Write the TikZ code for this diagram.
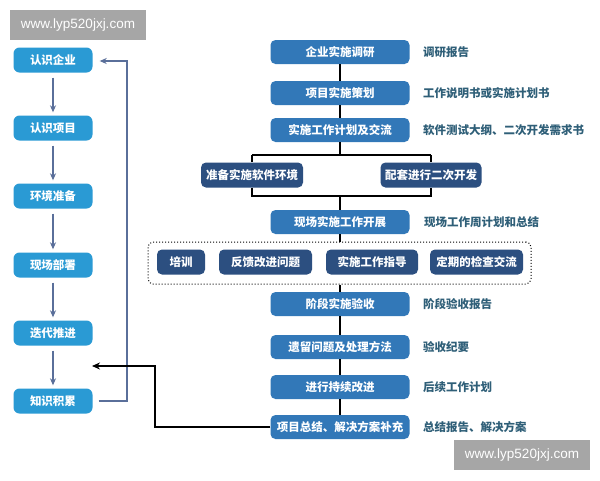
\documentclass[tikz,border=0pt]{standalone}
\usepackage{fontspec}
\newfontfamily\cjk{Noto Sans CJK SC}
\setmainfont{Liberation Sans}
\usetikzlibrary{arrows.meta}
\definecolor{mainblue}{HTML}{3278B8}
\definecolor{navy}{HTML}{2C4F80}
\definecolor{lightblue}{HTML}{2A9AD4}
\definecolor{labelc}{HTML}{2F5F78}
\definecolor{fbc}{HTML}{5A6F9A}
\definecolor{wmgray}{HTML}{A6A6A6}
\tikzset{
  mainbox/.style={fill=mainblue, text=white, rounded corners=5pt, minimum width=139pt, minimum height=24pt, inner sep=0pt, font=\cjk\bfseries\fontsize{11.5}{13}\selectfont},
  subbox/.style={fill=navy, text=white, rounded corners=5pt, minimum height=25pt, inner sep=0pt, font=\cjk\bfseries\fontsize{11.5}{13}\selectfont},
  leftbox/.style={fill=lightblue, text=white, rounded corners=6pt, minimum width=79pt, minimum height=25pt, inner sep=0pt, font=\cjk\bfseries\fontsize{11.5}{13}\selectfont},
  lab/.style={anchor=west, text=labelc, inner sep=0pt, font=\cjk\bfseries\fontsize{11.5}{13}\selectfont},
  conn/.style={black, line width=1.3pt},
  larrow/.style={fbc, line width=1.3pt, -{Stealth[length=7pt,width=6pt]}},
  wm/.style={fill=wmgray, text=white, inner sep=0pt, minimum width=136pt, minimum height=30pt, font=\fontsize{13.5}{15}\selectfont}
}
\begin{document}
\begin{tikzpicture}[x=1pt,y=-1pt]
\useasboundingbox[fill=white] (0,0) rectangle (600,480);
% watermarks
\node[wm] (wm1) at (78,25) {www.lyp520jxj.com};
\node[wm] (wm2) at (522,455) {www.lyp520jxj.com};
% left column
\node[leftbox] (l1) at (53,60) {认识企业};
\node[leftbox] (l2) at (53,128) {认识项目};
\node[leftbox] (l3) at (53,196) {环境准备};
\node[leftbox] (l4) at (53,265) {现场部署};
\node[leftbox] (l5) at (53,333) {迭代推进};
\node[leftbox] (l6) at (53,401) {知识积累};
\foreach \a/\b in {l1/l2,l2/l3,l3/l4,l4/l5,l5/l6}{
  \draw[larrow] ([yshift=-5pt]\a.south) -- ([yshift=3pt]\b.north);
}
\coordinate (fb1) at (127,401);
\coordinate (fb2) at (127,61);
\draw[fbc, line width=1.3pt, -{Stealth[length=7pt,width=6pt]}] ([xshift=6pt]l6.east) -- (fb1) -- (fb2) -- ([xshift=7pt]l1.east |- fb2);
% main column
\node[mainbox] (m1) at (340,52) {企业实施调研};
\node[mainbox] (m2) at (340,93) {项目实施策划};
\node[mainbox] (m3) at (340,130) {实施工作计划及交流};
\node[subbox, minimum width=102pt] (s1) at (252,175) {准备实施软件环境};
\node[subbox, minimum width=101pt] (s2) at (431,175) {配套进行二次开发};
\node[mainbox] (m4) at (340,222) {现场实施工作开展};
\node[draw=black, dotted, line width=1pt, rounded corners=5pt, minimum width=383pt, minimum height=42pt, inner sep=0pt] (dot) at (339.5,263) {};
\node[subbox, minimum width=48pt] (t1) at (181,262) {培训};
\node[subbox, minimum width=93pt] (t2) at (265.5,262) {反馈改进问题};
\node[subbox, minimum width=92pt] (t3) at (372,262) {实施工作指导};
\node[subbox, minimum width=93pt] (t4) at (476.5,262) {定期的检查交流};
\node[mainbox] (m5) at (340,304) {阶段实施验收};
\node[mainbox] (m6) at (340,347) {遗留问题及处理方法};
\node[mainbox] (m7) at (340,387) {进行持续改进};
\node[mainbox] (m8) at (340,427) {项目总结、解决方案补充};
% labels
\node[lab] (a1) at (423,52) {调研报告};
\node[lab] (a2) at (423,93) {工作说明书或实施计划书};
\node[lab] (a3) at (423,130) {软件测试大纲、二次开发需求书};
\node[lab] (a4) at (424,222) {现场工作周计划和总结};
\node[lab] (a5) at (423,304) {阶段验收报告};
\node[lab] (a6) at (423,347) {验收纪要};
\node[lab] (a7) at (423,387) {后续工作计划};
\node[lab] (a8) at (423,427) {总结报告、解决方案};
% connectors
\draw[conn] (m1) -- (m2);
\draw[conn] (m2) -- (m3);
\coordinate (br1) at (340,155);
\coordinate (br2) at (340,196);
\draw[conn] (m3.south) -- (br1);
\draw[conn] (s1.north |- br1) -- (s2.north |- br1);
\draw[conn] (s1.north |- br1) -- (s1.north);
\draw[conn] (s2.north |- br1) -- (s2.north);
\draw[conn] (s1.south) -- (s1.south |- br2) -- (s2.south |- br2) -- (s2.south);
\draw[conn] (br2) -- (m4.north);
\draw[conn] (m4.south) -- (m4.south |- dot.north);
\draw[conn] (m5.north |- dot.south) -- (m5.north);
\draw[conn] (m5) -- (m6);
\draw[conn] (m6) -- (m7);
\draw[conn] (m7) -- (m8);
\coordinate (k1) at (155,427);
\coordinate (k2) at (155,366);
\draw[black, line width=1.5pt, -{Stealth[length=8pt,width=7pt]}] (m8.west) -- (k1) -- (k2) -- (92,366);
\end{tikzpicture}
\end{document}
